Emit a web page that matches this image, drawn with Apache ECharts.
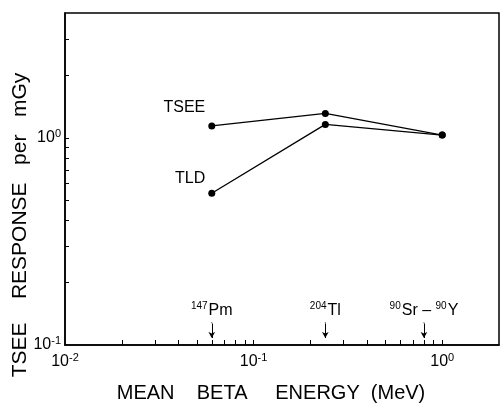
<!DOCTYPE html>
<html>
<head>
<meta charset="utf-8">
<script src="https://cdn.jsdelivr.net/npm/echarts@6/dist/echarts.min.js"></script>
<style>
  html, body { margin: 0; padding: 0; background: #fff; }
  #main { width: 503px; height: 404px; }
</style>
</head>
<body>
<div id="main"></div>
<script>
// mean beta energy (MeV) of the three sources
var energyMeV = [0.06, 0.24, 1.0];
// response per mGy
var tseeResp = [1.14, 1.31, 1.03];
var tldResp = [0.54, 1.16, 1.03];

// source markers (arrows above the x axis)
var sourceSup = ['147', '204', '90'];
var sourceName = ['Pm', 'Tl', 'Sr'];
var sourceTail = ['', '', ' \u2013 '];
var sourceSup2 = ['', '', '90'];
var sourceName2 = ['', '', 'Y'];
var sourceEnergy = [0.06, 0.24, 0.8];

// ticks
var xLabelTicks = [0.01, 0.1, 1];
var xMinorTicks = [0.02, 0.03, 0.04, 0.05, 0.06, 0.07, 0.08, 0.09, 0.1,
    0.2, 0.3, 0.4, 0.5, 0.6, 0.7, 0.8, 0.9, 1];
var yLabelTicks = [0.1, 1];
var yMinorTicks = [0.2, 0.3, 0.4, 0.5, 0.6, 0.7, 0.8, 0.9, 1, 2, 3];

var FONT = 'Liberation Sans';

var chart = echarts.init(document.getElementById('main'), null, { renderer: 'canvas' });

function powLabel(v) {
    var e = Math.round(Math.log(v) / Math.LN10);
    if (Math.abs(Math.pow(10, e) - v) > 1e-9 * v) return '';
    return '{b|10}{s|' + (e < 0 ? '-' + (-e) : e) + '}';
}

var powRich = {
    b: { fontSize: 16, fontFamily: FONT, color: '#000' },
    s: { fontSize: 11, fontFamily: FONT, color: '#000', padding: [0, 0, 8, 0] }
};

var option = {
    backgroundColor: '#fff',
    animation: false,
    grid: {
        left: 65, right: 4, top: 13, bottom: 59,
        outerBoundsMode: 'none',
        show: true, borderColor: '#000', borderWidth: 1.5
    },
    graphic: [{
        type: 'text',
        x: 20,
        y: 225,
        rotation: Math.PI / 2,
        style: {
            text: 'TSEE    RESPONSE   per   mGy',
            font: '21px "Liberation Sans"',
            fill: '#000',
            align: 'center',
            verticalAlign: 'middle'
        }
    }],
    xAxis: {
        type: 'log',
        min: 0.01,
        max: 2,
        name: 'MEAN    BETA     ENERGY  (MeV)',
        nameLocation: 'middle',
        nameGap: 38,
        nameTextStyle: { fontSize: 20, fontFamily: FONT, color: '#000', padding: [0, 22, 0, 0] },
        axisLine: { lineStyle: { color: '#000', width: 1.5 } },
        axisTick: { inside: true, length: 5, lineStyle: { color: '#000' }, customValues: xMinorTicks },
        axisLabel: { customValues: xLabelTicks, formatter: powLabel, rich: powRich, margin: 7 },
        splitLine: { show: false }
    },
    yAxis: {
        type: 'log',
        min: 0.1,
        max: 4,
        axisLine: { lineStyle: { color: '#000', width: 1.5 } },
        axisTick: { inside: true, length: 4, lineStyle: { color: '#000' }, customValues: yMinorTicks },
        axisLabel: { customValues: yLabelTicks, formatter: powLabel, rich: powRich, margin: 4 },
        splitLine: { show: false }
    },
    series: [
        {
            name: 'TSEE',
            type: 'line',
            data: energyMeV.map(function (x, i) { return [x, tseeResp[i]]; }),
            symbol: 'circle',
            symbolSize: 7,
            itemStyle: { color: '#000' },
            lineStyle: { color: '#000', width: 1.3 },
            label: {
                show: true,
                position: 'left',
                distance: 3,
                offset: [0, -18],
                fontSize: 16,
                fontFamily: FONT,
                color: '#000',
                formatter: function (p) { return p.dataIndex === 0 ? 'TSEE' : ''; }
            }
        },
        {
            name: 'TLD',
            type: 'line',
            data: energyMeV.map(function (x, i) { return [x, tldResp[i]]; }),
            symbol: 'circle',
            symbolSize: 7,
            itemStyle: { color: '#000' },
            lineStyle: { color: '#000', width: 1.3 },
            label: {
                show: true,
                position: 'left',
                distance: 3,
                offset: [0, -15],
                fontSize: 16,
                fontFamily: FONT,
                color: '#000',
                formatter: function (p) { return p.dataIndex === 0 ? 'TLD' : ''; }
            }
        },
        {
            name: 'sources',
            type: 'scatter',
            data: sourceEnergy.map(function (x) { return [x, 0.128]; }),
            symbolSize: 1,
            itemStyle: { color: '#000', opacity: 1 },
            silent: true,
            label: {
                show: true,
                position: 'top',
                distance: 3,
                color: '#000',
                opacity: 1,
                formatter: function (p) {
                    var i = p.dataIndex;
                    var t = '{s|' + sourceSup[i] + '}{b|' + sourceName[i] + '}';
                    if (sourceTail[i]) {
                        t += '{b|' + sourceTail[i] + '}{s|' + sourceSup2[i] + '}{b|' + sourceName2[i] + '}';
                    }
                    return t;
                },
                rich: {
                    b: { fontSize: 16, fontFamily: FONT, color: '#000' },
                    s: { fontSize: 10, fontFamily: FONT, color: '#000', padding: [0, 1, 8, 0] }
                }
            },
            markLine: {
                silent: true,
                symbol: ['none', 'arrow'],
                symbolSize: [5, 6],
                label: { show: false },
                lineStyle: { color: '#000', width: 1, type: 'solid', opacity: 1 },
                data: sourceEnergy.map(function (x) {
                    return [{ coord: [x, 0.127] }, { coord: [x, 0.108] }];
                })
            }
        }
    ]
};

chart.setOption(option);
</script>
</body>
</html>
